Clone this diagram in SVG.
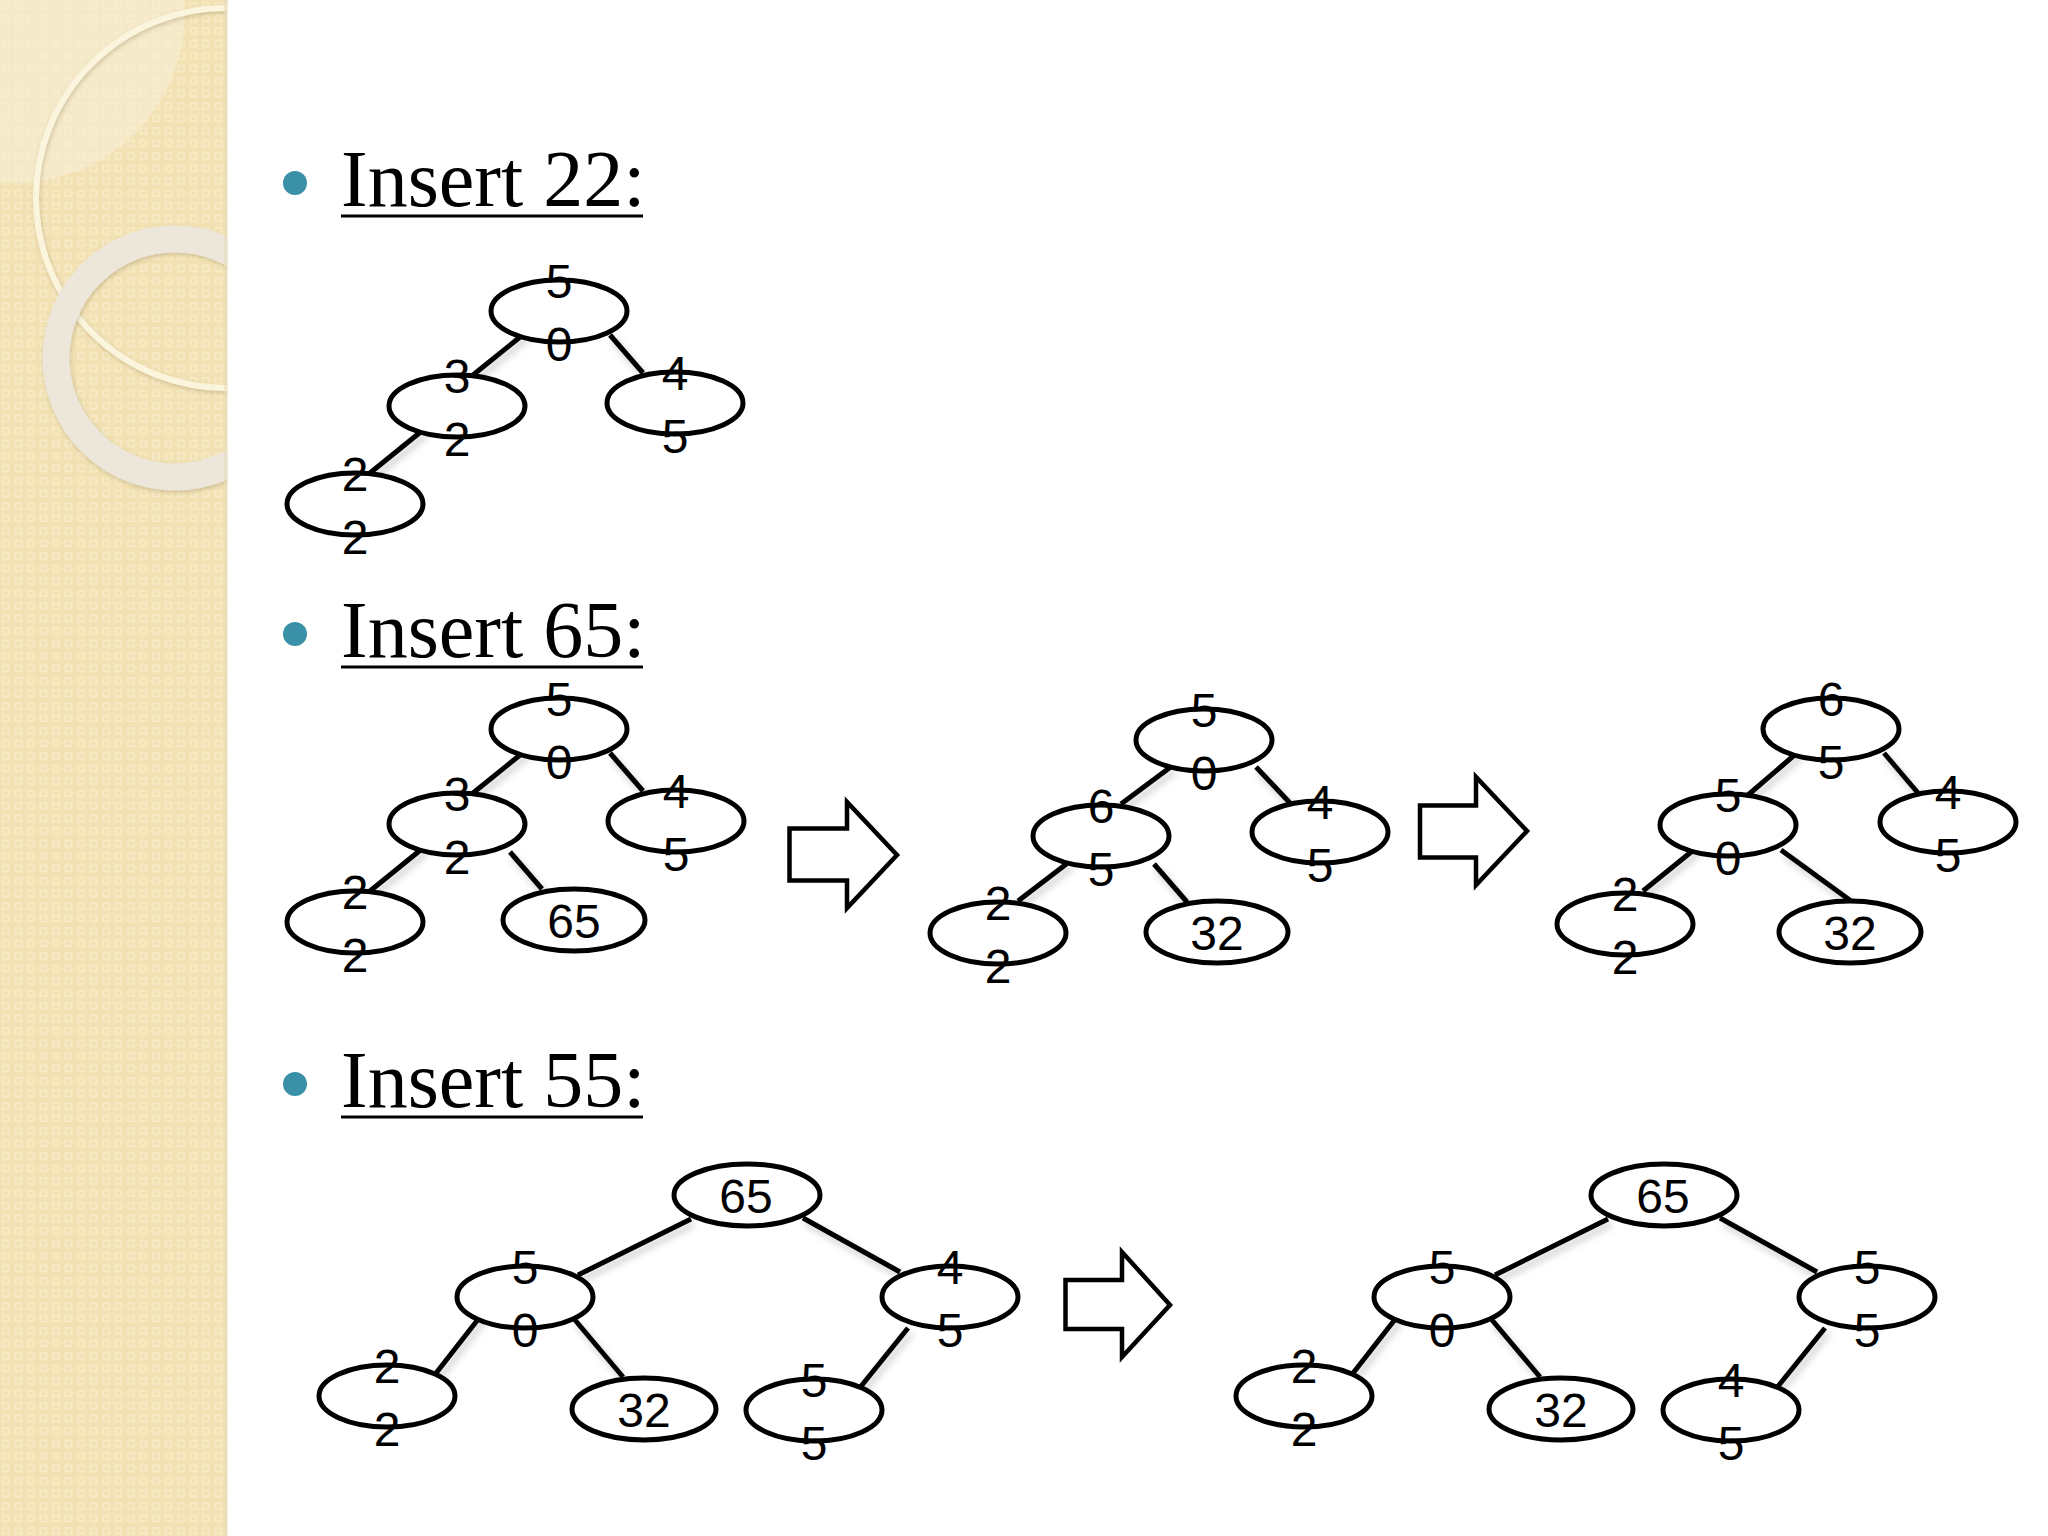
<svg xmlns="http://www.w3.org/2000/svg" width="2048" height="1536" viewBox="0 0 2048 1536">
<defs>
<pattern id="dots" width="12.5" height="12.5" patternUnits="userSpaceOnUse">
<rect width="12.5" height="12.5" fill="#F2E1B2"/>
<rect x="3" y="3" width="6" height="6" fill="none" stroke="#F8ECC9" stroke-width="1.6"/>
</pattern>
<clipPath id="side"><rect x="0" y="0" width="227" height="1536"/></clipPath>
<filter id="sh" x="-20%" y="-20%" width="140%" height="140%">
<feDropShadow dx="3" dy="5" stdDeviation="3.5" flood-color="#000" flood-opacity="0.2"/>
</filter>
<filter id="soft" x="-10%" y="-10%" width="120%" height="120%">
<feDropShadow dx="1" dy="2" stdDeviation="2" flood-color="#8a7a50" flood-opacity="0.35"/>
</filter>
</defs>
<style>
.title{font-family:"Liberation Serif","Times New Roman",serif;font-size:80px;fill:#000;}
.ul{stroke:#000;stroke-width:3;}
.bul{fill:#3A90A6;}
.nd ellipse{fill:#fff;stroke:#000;stroke-width:5;}
.nd text{font-family:"Liberation Sans",Arial,sans-serif;font-size:48px;fill:#000;text-anchor:middle;}
#connectors line{stroke:#000;stroke-width:5;stroke-linecap:butt;}
.arrow{fill:#fff;stroke:#000;stroke-width:4.5;stroke-linejoin:miter;}
</style>

<rect width="2048" height="1536" fill="#fff"/>

<!-- sidebar -->
<g id="sidebar" clip-path="url(#side)">
<rect x="0" y="0" width="227" height="1536" fill="url(#dots)"/>
<path d="M0,182 A169,169 0 0 0 184,0 L0,0 Z" fill="#F7EED5" opacity="0.6"/>
<circle cx="226" cy="198" r="190" fill="none" stroke="#FCF5DE" stroke-width="6" filter="url(#soft)"/>
<circle cx="175" cy="358" r="119" fill="none" stroke="#ECE7DA" stroke-width="27" filter="url(#soft)"/>
</g>
<rect x="224" y="0" width="4" height="1536" fill="#E8DDBD" opacity="0.6"/>

<!-- titles -->
<g id="title-22">
<circle class="bul" cx="295" cy="183" r="12"/>
<text class="title" x="341" y="206">Insert 22:</text>
<line class="ul" x1="341" y1="216" x2="643" y2="216"/>
</g>
<g id="title-65">
<circle class="bul" cx="295" cy="634" r="12"/>
<text class="title" x="341" y="657">Insert 65:</text>
<line class="ul" x1="341" y1="667" x2="643" y2="667"/>
</g>
<g id="title-55">
<circle class="bul" cx="295" cy="1084" r="12"/>
<text class="title" x="341" y="1107">Insert 55:</text>
<line class="ul" x1="341" y1="1117" x2="643" y2="1117"/>
</g>

<!-- connectors -->
<g id="connectors" filter="url(#sh)">
<!-- tree 1 -->
<line x1="525" y1="333" x2="473" y2="375"/>
<line x1="610" y1="335" x2="643" y2="373"/>
<line x1="423" y1="430" x2="370" y2="473"/>
<!-- tree 2 -->
<line x1="525" y1="751" x2="473" y2="793"/>
<line x1="610" y1="753" x2="643" y2="791"/>
<line x1="423" y1="848" x2="370" y2="891"/>
<line x1="510" y1="852" x2="542" y2="889"/>
<!-- tree 3 -->
<line x1="1172" y1="766" x2="1121" y2="804"/>
<line x1="1256" y1="767" x2="1290" y2="803"/>
<line x1="1069" y1="862" x2="1018" y2="901"/>
<line x1="1154" y1="864" x2="1187" y2="902"/>
<!-- tree 4 -->
<line x1="1798" y1="752" x2="1748" y2="795"/>
<line x1="1884" y1="753" x2="1918" y2="793"/>
<line x1="1696" y1="848" x2="1643" y2="891"/>
<line x1="1781" y1="850" x2="1851" y2="901"/>
<!-- tree 5 -->
<line x1="691" y1="1219" x2="578" y2="1275"/>
<line x1="803" y1="1218" x2="900" y2="1272"/>
<line x1="483" y1="1313" x2="433" y2="1377"/>
<line x1="575" y1="1320" x2="623" y2="1377"/>
<line x1="908" y1="1328" x2="858" y2="1390"/>
<!-- tree 6 -->
<line x1="1608" y1="1219" x2="1495" y2="1275"/>
<line x1="1720" y1="1218" x2="1817" y2="1272"/>
<line x1="1400" y1="1313" x2="1350" y2="1377"/>
<line x1="1492" y1="1320" x2="1540" y2="1377"/>
<line x1="1825" y1="1328" x2="1775" y2="1390"/>
</g>

<!-- tree 1 -->
<g id="t1-50" class="nd"><ellipse cx="559" cy="311" rx="68" ry="31"/><text x="559" y="298">5</text><text x="559" y="361">0</text></g>
<g id="t1-32" class="nd"><ellipse cx="457" cy="406" rx="68" ry="31"/><text x="457" y="393">3</text><text x="457" y="456">2</text></g>
<g id="t1-45" class="nd"><ellipse cx="675" cy="403" rx="68" ry="31"/><text x="675" y="390">4</text><text x="675" y="453">5</text></g>
<g id="t1-22" class="nd"><ellipse cx="355" cy="504" rx="68" ry="31"/><text x="355" y="491">2</text><text x="355" y="554">2</text></g>

<!-- tree 2 -->
<g id="t2-50" class="nd"><ellipse cx="559" cy="729" rx="68" ry="31"/><text x="559" y="716">5</text><text x="559" y="779">0</text></g>
<g id="t2-32" class="nd"><ellipse cx="457" cy="824" rx="68" ry="31"/><text x="457" y="811">3</text><text x="457" y="874">2</text></g>
<g id="t2-45" class="nd"><ellipse cx="676" cy="821" rx="68" ry="31"/><text x="676" y="808">4</text><text x="676" y="871">5</text></g>
<g id="t2-22" class="nd"><ellipse cx="355" cy="922" rx="68" ry="31"/><text x="355" y="909">2</text><text x="355" y="972">2</text></g>
<g id="t2-65" class="nd"><ellipse cx="574" cy="920" rx="71" ry="31"/><text x="574" y="938">65</text></g>

<!-- tree 3 -->
<g id="t3-50" class="nd"><ellipse cx="1204" cy="740" rx="68" ry="31"/><text x="1204" y="727">5</text><text x="1204" y="790">0</text></g>
<g id="t3-65" class="nd"><ellipse cx="1101" cy="836" rx="68" ry="31"/><text x="1101" y="823">6</text><text x="1101" y="886">5</text></g>
<g id="t3-45" class="nd"><ellipse cx="1320" cy="832" rx="68" ry="31"/><text x="1320" y="819">4</text><text x="1320" y="882">5</text></g>
<g id="t3-22" class="nd"><ellipse cx="998" cy="933" rx="68" ry="31"/><text x="998" y="920">2</text><text x="998" y="983">2</text></g>
<g id="t3-32" class="nd"><ellipse cx="1217" cy="932" rx="71" ry="31"/><text x="1217" y="950">32</text></g>

<!-- tree 4 -->
<g id="t4-65" class="nd"><ellipse cx="1831" cy="729" rx="68" ry="31"/><text x="1831" y="716">6</text><text x="1831" y="779">5</text></g>
<g id="t4-50" class="nd"><ellipse cx="1728" cy="825" rx="68" ry="31"/><text x="1728" y="812">5</text><text x="1728" y="875">0</text></g>
<g id="t4-45" class="nd"><ellipse cx="1948" cy="822" rx="68" ry="31"/><text x="1948" y="809">4</text><text x="1948" y="872">5</text></g>
<g id="t4-22" class="nd"><ellipse cx="1625" cy="924" rx="68" ry="31"/><text x="1625" y="911">2</text><text x="1625" y="974">2</text></g>
<g id="t4-32" class="nd"><ellipse cx="1850" cy="932" rx="71" ry="31"/><text x="1850" y="950">32</text></g>

<!-- tree 5 -->
<g id="t5-65" class="nd"><ellipse cx="747" cy="1195" rx="73" ry="31"/><text x="746" y="1213">65</text></g>
<g id="t5-50" class="nd"><ellipse cx="525" cy="1297" rx="68" ry="31"/><text x="525" y="1284">5</text><text x="525" y="1347">0</text></g>
<g id="t5-45" class="nd"><ellipse cx="950" cy="1297" rx="68" ry="31"/><text x="950" y="1284">4</text><text x="950" y="1347">5</text></g>
<g id="t5-22" class="nd"><ellipse cx="387" cy="1396" rx="68" ry="31"/><text x="387" y="1383">2</text><text x="387" y="1446">2</text></g>
<g id="t5-32" class="nd"><ellipse cx="644" cy="1409" rx="72" ry="31"/><text x="644" y="1427">32</text></g>
<g id="t5-55" class="nd"><ellipse cx="814" cy="1410" rx="68" ry="31"/><text x="814" y="1397">5</text><text x="814" y="1460">5</text></g>

<!-- tree 6 -->
<g id="t6-65" class="nd"><ellipse cx="1664" cy="1195" rx="73" ry="31"/><text x="1663" y="1213">65</text></g>
<g id="t6-50" class="nd"><ellipse cx="1442" cy="1297" rx="68" ry="31"/><text x="1442" y="1284">5</text><text x="1442" y="1347">0</text></g>
<g id="t6-55" class="nd"><ellipse cx="1867" cy="1297" rx="68" ry="31"/><text x="1867" y="1284">5</text><text x="1867" y="1347">5</text></g>
<g id="t6-22" class="nd"><ellipse cx="1304" cy="1396" rx="68" ry="31"/><text x="1304" y="1383">2</text><text x="1304" y="1446">2</text></g>
<g id="t6-32" class="nd"><ellipse cx="1561" cy="1409" rx="72" ry="31"/><text x="1561" y="1427">32</text></g>
<g id="t6-45" class="nd"><ellipse cx="1731" cy="1410" rx="68" ry="31"/><text x="1731" y="1397">4</text><text x="1731" y="1460">5</text></g>

<!-- block arrows -->
<g id="arrows">
<polygon class="arrow" points="789.5,828.5 847,828.5 847,802 897,855 847,908 847,880.5 789.5,880.5"/>
<polygon class="arrow" points="1420,805.5 1476,805.5 1476,777 1527,831 1476,885 1476,857.5 1420,857.5"/>
<polygon class="arrow" points="1065.5,1280 1122,1280 1122,1252 1170,1305 1122,1357 1122,1329 1065.5,1329"/>
</g>
</svg>
